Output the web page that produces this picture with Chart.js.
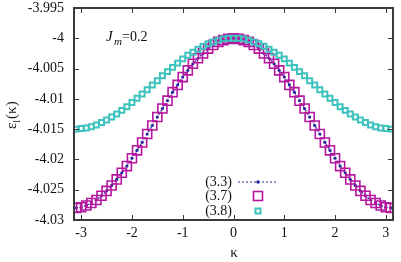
<!DOCTYPE html>
<html>
<head>
<meta charset="utf-8">
<script src="https://cdn.jsdelivr.net/npm/chart.js@4.4.0/dist/chart.umd.min.js"></script>
<style>
  html, body { margin: 0; padding: 0; background: #fff; }
  #chart { display: block; }
</style>
</head>
<body>
<canvas id="chart" width="401" height="262"></canvas>
<script>
// kappa grid and the three energy curves
const kappa = [
  -3.1, -3.0, -2.9, -2.8, -2.7, -2.6, -2.5, -2.4, -2.3, -2.2, -2.1,
  -2.0, -1.9, -1.8, -1.7, -1.6, -1.5, -1.4, -1.3, -1.2, -1.1,
  -1.0, -0.9, -0.8, -0.7, -0.6, -0.5, -0.4, -0.3, -0.2, -0.1,
  0.0,
  0.1, 0.2, 0.3, 0.4, 0.5, 0.6, 0.7, 0.8, 0.9, 1.0,
  1.1, 1.2, 1.3, 1.4, 1.5, 1.6, 1.7, 1.8, 1.9, 2.0,
  2.1, 2.2, 2.3, 2.4, 2.5, 2.6, 2.7, 2.8, 2.9, 3.0, 3.1,
];

const eps37 = [
  -4.0280, -4.0279, -4.0276, -4.0272, -4.0267, -4.0260, -4.0252, -4.0243, -4.0233, -4.0222, -4.0211,
  -4.0198, -4.0185, -4.0172, -4.0158, -4.0144, -4.0130, -4.0116, -4.0103, -4.0089, -4.0077,
  -4.0064, -4.0053, -4.0042, -4.0033, -4.0025, -4.0017, -4.0011, -4.0006, -4.0003, -4.0001,
  -4.0000,
  -4.0001, -4.0003, -4.0006, -4.0011, -4.0017, -4.0025, -4.0033, -4.0042, -4.0053, -4.0064,
  -4.0077, -4.0089, -4.0103, -4.0116, -4.0130, -4.0144, -4.0158, -4.0172, -4.0185, -4.0198,
  -4.0211, -4.0222, -4.0233, -4.0243, -4.0252, -4.0260, -4.0267, -4.0272, -4.0276, -4.0279, -4.0280,
];

// (3.3) lies on top of (3.7)
const eps33 = eps37.slice();

const eps38 = [
  -4.0150, -4.0149, -4.0148, -4.0146, -4.0143, -4.0139, -4.0135, -4.0130, -4.0125, -4.0119, -4.0113,
  -4.0106, -4.0099, -4.0092, -4.0085, -4.0077, -4.0070, -4.0062, -4.0055, -4.0048, -4.0041,
  -4.0034, -4.0028, -4.0023, -4.0018, -4.0013, -4.0009, -4.0006, -4.0003, -4.0001, -4.0000,
  -4.0000,
  -4.0000, -4.0001, -4.0003, -4.0006, -4.0009, -4.0013, -4.0018, -4.0023, -4.0028, -4.0034,
  -4.0041, -4.0048, -4.0055, -4.0062, -4.0070, -4.0077, -4.0085, -4.0092, -4.0099, -4.0106,
  -4.0113, -4.0119, -4.0125, -4.0130, -4.0135, -4.0139, -4.0143, -4.0146, -4.0148, -4.0149, -4.0150,
];

const xTicks = [-3, -2, -1, 0, 1, 2, 3];
const yTicks = [-4.03, -4.025, -4.02, -4.015, -4.01, -4.005, -4, -3.995];
const legendLabels = ['(3.3)', '(3.7)', '(3.8)'];

const SERIF = '"Liberation Serif", "Times New Roman", serif';
const FRAME = '#3a3a3a';
const BLUE = '#2a2a9e';
const MAGENTA = '#b5179e';
const CYAN = '#3fc2bd';

const toPoints = (ys) => kappa.map((k, i) => ({ x: k, y: ys[i] }));

// gnuplot-like frame: full border, inward ticks on all four sides, texts
const gnuplotFrame = {
  id: 'gnuplotFrame',
  afterDraw(chart) {
    const { ctx, chartArea: a, scales } = chart;
    const tick = 5;
    ctx.save();
    ctx.strokeStyle = FRAME;
    ctx.lineWidth = 1;
    ctx.beginPath();
    xTicks.forEach((v) => {
      const px = Math.round(scales.x.getPixelForValue(v)) + 0.5;
      ctx.moveTo(px, a.bottom); ctx.lineTo(px, a.bottom - tick);
      ctx.moveTo(px, a.top);    ctx.lineTo(px, a.top + tick);
    });
    yTicks.forEach((v) => {
      const py = Math.round(scales.y.getPixelForValue(v)) + 0.5;
      ctx.moveTo(a.left, py);  ctx.lineTo(a.left + tick, py);
      ctx.moveTo(a.right, py); ctx.lineTo(a.right - tick, py);
    });
    ctx.stroke();

    ctx.lineWidth = 2;
    ctx.strokeRect(a.left, a.top, a.right - a.left, a.bottom - a.top);

    ctx.fillStyle = '#111';
    ctx.textBaseline = 'alphabetic';

    // J_m = 0.2
    ctx.textAlign = 'left';
    ctx.font = 'italic 15px ' + SERIF;
    ctx.fillText('J', 106, 41);
    ctx.font = 'italic 11px ' + SERIF;
    ctx.fillText('m', 114, 45);
    ctx.font = '14px ' + SERIF;
    ctx.fillText('=0.2', 122, 41);

    // x title
    ctx.textAlign = 'center';
    ctx.font = '15px ' + SERIF;
    ctx.fillText('\u03ba', (a.left + a.right) / 2 + 0.5, 257);

    // y title, rotated
    ctx.save();
    ctx.translate(16, 129);
    ctx.rotate(-Math.PI / 2);
    ctx.textAlign = 'left';
    ctx.font = '15px ' + SERIF;
    ctx.fillText('\u03b5', 0, 0);
    let w = ctx.measureText('\u03b5').width;
    ctx.font = '10px ' + SERIF;
    ctx.fillText('l', w, 4);
    w += ctx.measureText('l').width + 1;
    ctx.font = '15px ' + SERIF;
    ctx.fillText('(\u03ba)', w, 0);
    ctx.restore();

    // legend
    const rows = [182, 196, 211];
    const sx = 258;
    ctx.textAlign = 'right';
    ctx.textBaseline = 'middle';
    ctx.font = '14px ' + SERIF;
    legendLabels.forEach((t, i) => ctx.fillText(t, 232, rows[i]));

    ctx.strokeStyle = BLUE;
    ctx.lineWidth = 1.2;
    ctx.setLineDash([2, 2]);
    ctx.beginPath();
    ctx.moveTo(238, rows[0]); ctx.lineTo(277, rows[0]);
    ctx.stroke();
    ctx.setLineDash([]);
    ctx.fillStyle = BLUE;
    ctx.beginPath();
    ctx.arc(sx, rows[0], 1.8, 0, Math.PI * 2);
    ctx.fill();

    ctx.strokeStyle = MAGENTA;
    ctx.lineWidth = 1.6;
    ctx.strokeRect(sx - 4.5, rows[1] - 4.5, 9, 9);

    ctx.strokeStyle = CYAN;
    ctx.lineWidth = 2;
    ctx.strokeRect(sx - 2.5, rows[2] - 2.5, 5, 5);
    ctx.restore();
  },
};

new Chart(document.getElementById('chart'), {
  type: 'scatter',
  data: {
    datasets: [
      {
        label: legendLabels[0],
        data: toPoints(eps33),
        showLine: true,
        borderColor: BLUE,
        borderWidth: 1.2,
        borderDash: [2, 2],
        pointStyle: 'circle',
        pointRadius: 1.6,
        pointBorderWidth: 0,
        pointBackgroundColor: BLUE,
        order: 3,
      },
      {
        label: legendLabels[1],
        data: toPoints(eps37),
        showLine: false,
        pointStyle: 'rect',
        pointRadius: 6.4,
        pointBorderWidth: 1.6,
        pointBorderColor: MAGENTA,
        pointBackgroundColor: 'rgba(0,0,0,0)',
        order: 2,
      },
      {
        label: legendLabels[2],
        data: toPoints(eps38),
        showLine: false,
        pointStyle: 'rect',
        pointRadius: 3.5,
        pointBorderWidth: 2,
        pointBorderColor: CYAN,
        pointBackgroundColor: 'rgba(0,0,0,0)',
        order: 1,
      },
    ],
  },
  options: {
    responsive: false,
    animation: false,
    devicePixelRatio: 1,
    layout: { padding: { top: 5, right: 4, left: 0, bottom: 0 } },
    plugins: {
      legend:  { display: false },
      tooltip: { enabled: false },
    },
    scales: {
      x: {
        type: 'linear',
        min: -Math.PI,
        max: Math.PI,
        grid:   { display: false, drawTicks: false },
        border: { display: false },
        ticks:  { color: '#111', font: { family: SERIF, size: 14 }, padding: 5, maxRotation: 0, autoSkip: false },
        afterBuildTicks: (s) => { s.ticks = xTicks.map((v) => ({ value: v })); },
        afterFit: (s) => { s.height = 42; s.paddingLeft = 0; s.paddingRight = 0; },
      },
      y: {
        type: 'linear',
        min: -4.03,
        max: -3.995,
        grid:   { display: false, drawTicks: false },
        border: { display: false },
        ticks:  {
          color: '#111',
          font: { family: SERIF, size: 14 },
          padding: 10,
          autoSkip: false,
          callback: (v) => String(+v.toFixed(3)),
        },
        afterBuildTicks: (s) => { s.ticks = yTicks.map((v) => ({ value: v })); },
        afterFit: (s) => { s.width = 74; s.paddingTop = 0; s.paddingBottom = 0; },
      },
    },
  },
  plugins: [gnuplotFrame],
});
</script>
</body>
</html>
